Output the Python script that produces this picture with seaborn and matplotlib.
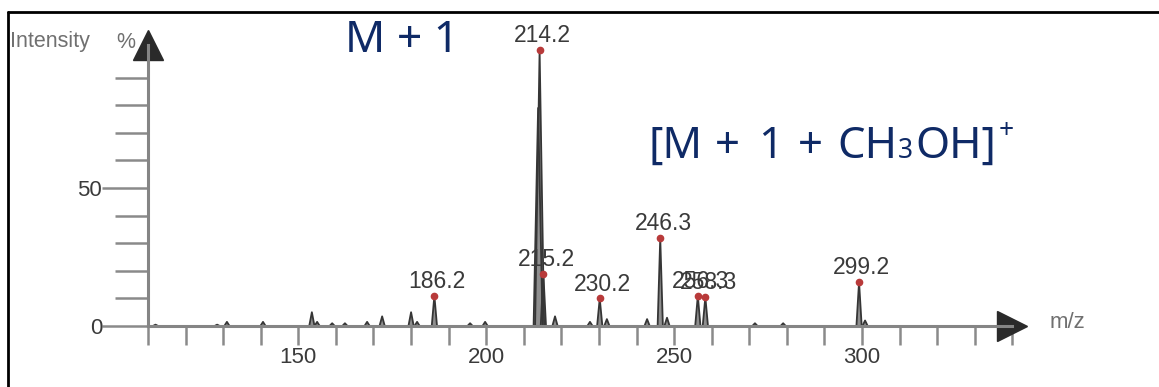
import pandas as pd
import matplotlib.pyplot as plt
from matplotlib.lines import Line2D
from matplotlib.ticker import MultipleLocator, FixedLocator
import seaborn as sns

# Picos etiquetados (m/z, intensidad %)
pico_mz = [186.2, 214.2, 215.2, 230.2, 246.3, 256.3, 258.3, 299.2]
pico_int = [11, 100, 19, 10, 32, 11, 10.5, 16]
pico_etiqueta = ['186.2', '214.2', '215.2', '230.2', '246.3', '256.3', '258.3', '299.2']

# Picos menores sin etiqueta
menor_mz = [112.0, 128.4, 131.0, 140.6, 153.6, 155.0, 159.0, 162.4, 168.3, 172.3,
            180.0, 181.6, 195.7, 199.7, 213.8, 218.3, 227.6, 232.1, 242.8, 248.1,
            271.5, 279.0, 300.8]
menor_int = [0.5, 0.5, 1.5, 1.5, 5, 1.5, 1, 1, 1.5, 3.5,
             5, 1.5, 1, 1.5, 79, 3.5, 1.5, 2.5, 2.5, 3, 1, 1, 2]

# Perfil triangular de cada pico
filas = []
for i, (mz, h) in enumerate(zip(pico_mz + menor_mz, pico_int + menor_int)):
    hw = 1.2 if h > 50 else 0.7
    for x, y in [(mz - hw, 0), (mz, h), (mz + hw, 0)]:
        filas.append({'pico': i, 'mz': x, 'int': y})
df = pd.DataFrame(filas)

sns.set_style('white')
plt.rcParams['font.family'] = ['Liberation Sans', 'DejaVu Sans']

fig = plt.figure(figsize=(11.59, 3.87), dpi=100)
ax = fig.add_axes([0.1277, 0.1576, 0.7458, 0.7274])

# Relleno de los picos
for _, g in df.groupby('pico'):
    ax.fill(g['mz'], g['int'], color='#8f8f8f', lw=0)
sns.lineplot(data=df, x='mz', y='int', units='pico', estimator=None, sort=False,
             color='#363636', lw=1.3, ax=ax)

# Marcadores y etiquetas
ax.plot(pico_mz, pico_int, 'o', color='#b83a3a', ms=4.5, zorder=5)
for mz, h, t in zip(pico_mz, pico_int, pico_etiqueta):
    ax.annotate(t, (mz, h), xytext=(2, 2), textcoords='offset points',
                ha='center', va='bottom', fontsize=16.5, color='#3a3a3a')

ax.set_xlim(110, 340)
ax.set_ylim(0, 102)

# Ejes con flechas
for s in ['top', 'right']:
    ax.spines[s].set_visible(False)
for s in ['left', 'bottom']:
    ax.spines[s].set_color('#858585')
    ax.spines[s].set_linewidth(2.2)
ax.plot(1, 0, '>', color='#2a2a2a', ms=22, transform=ax.get_yaxis_transform(), clip_on=False)
ax.plot(110, 1, '^', color='#2a2a2a', ms=22, transform=ax.get_xaxis_transform(), clip_on=False)

ax.xaxis.set_major_locator(FixedLocator([150, 200, 250, 300]))
ax.xaxis.set_minor_locator(MultipleLocator(10))
ax.yaxis.set_major_locator(FixedLocator([0, 50]))
ax.yaxis.set_minor_locator(FixedLocator([10, 20, 30, 40, 60, 70, 80, 90]))
ax.tick_params(axis='x', which='both', direction='out', length=14, width=1.8,
               color='#8a8a8a', labelsize=16, labelcolor='#3a3a3a', pad=1, bottom=True)
ax.tick_params(axis='y', which='major', direction='out', length=33, width=1.8,
               color='#8a8a8a', labelsize=16, labelcolor='#3a3a3a', pad=0, left=True)
ax.tick_params(axis='y', which='minor', direction='out', length=24, width=1.8,
               color='#8a8a8a', left=True)
ax.set_xlabel('')
ax.set_ylabel('')

# Textos del rótulo
fig.text(10 / 1159, 1 - 42 / 387, 'Intensity', fontsize=15.5, color='#707070', va='center')
fig.text(116 / 1159, 1 - 42 / 387, '%', fontsize=15.5, color='#707070', va='center')
fig.text(1050 / 1159, 1 - 322 / 387, 'm/z', fontsize=16, color='#707070', va='center')
azul = '#0f2a66'
fig.text(345 / 1159, 1 - 52 / 387, 'M + 1', fontsize=32, color=azul,
         family='Noto Sans', weight='semibold', va='baseline')

# Fórmula armada por piezas: (texto, tamaño, desplazamiento vertical, hueco después)
piezas = [('[M', 31.5, 0, 13), ('+', 31.5, 0, 18), ('1', 31.5, 0, 15), ('+', 31.5, 0, 14),
          ('CH', 31.5, 0, 1), ('3', 19, 0, 2), ('OH]', 31.5, 0, 3), ('+', 19, 20, 0)]
renderer = fig.canvas.get_renderer()
x0 = 648
for txt, fs, dy, hueco in piezas:
    t = fig.text(x0 / 1159, (387 - 158 + dy) / 387, txt, fontsize=fs, color=azul,
                 family='Noto Sans', va='baseline')
    x0 = t.get_window_extent(renderer).x1 + hueco

# Marco
fig.add_artist(Line2D([8 / 1159, 1], [1 - 12 / 387, 1 - 12 / 387], color='black', lw=2,
                      transform=fig.transFigure))
fig.add_artist(Line2D([8 / 1159, 8 / 1159], [0, 1 - 12 / 387], color='black', lw=2,
                      transform=fig.transFigure))

fig.savefig('out.png', dpi=100)
